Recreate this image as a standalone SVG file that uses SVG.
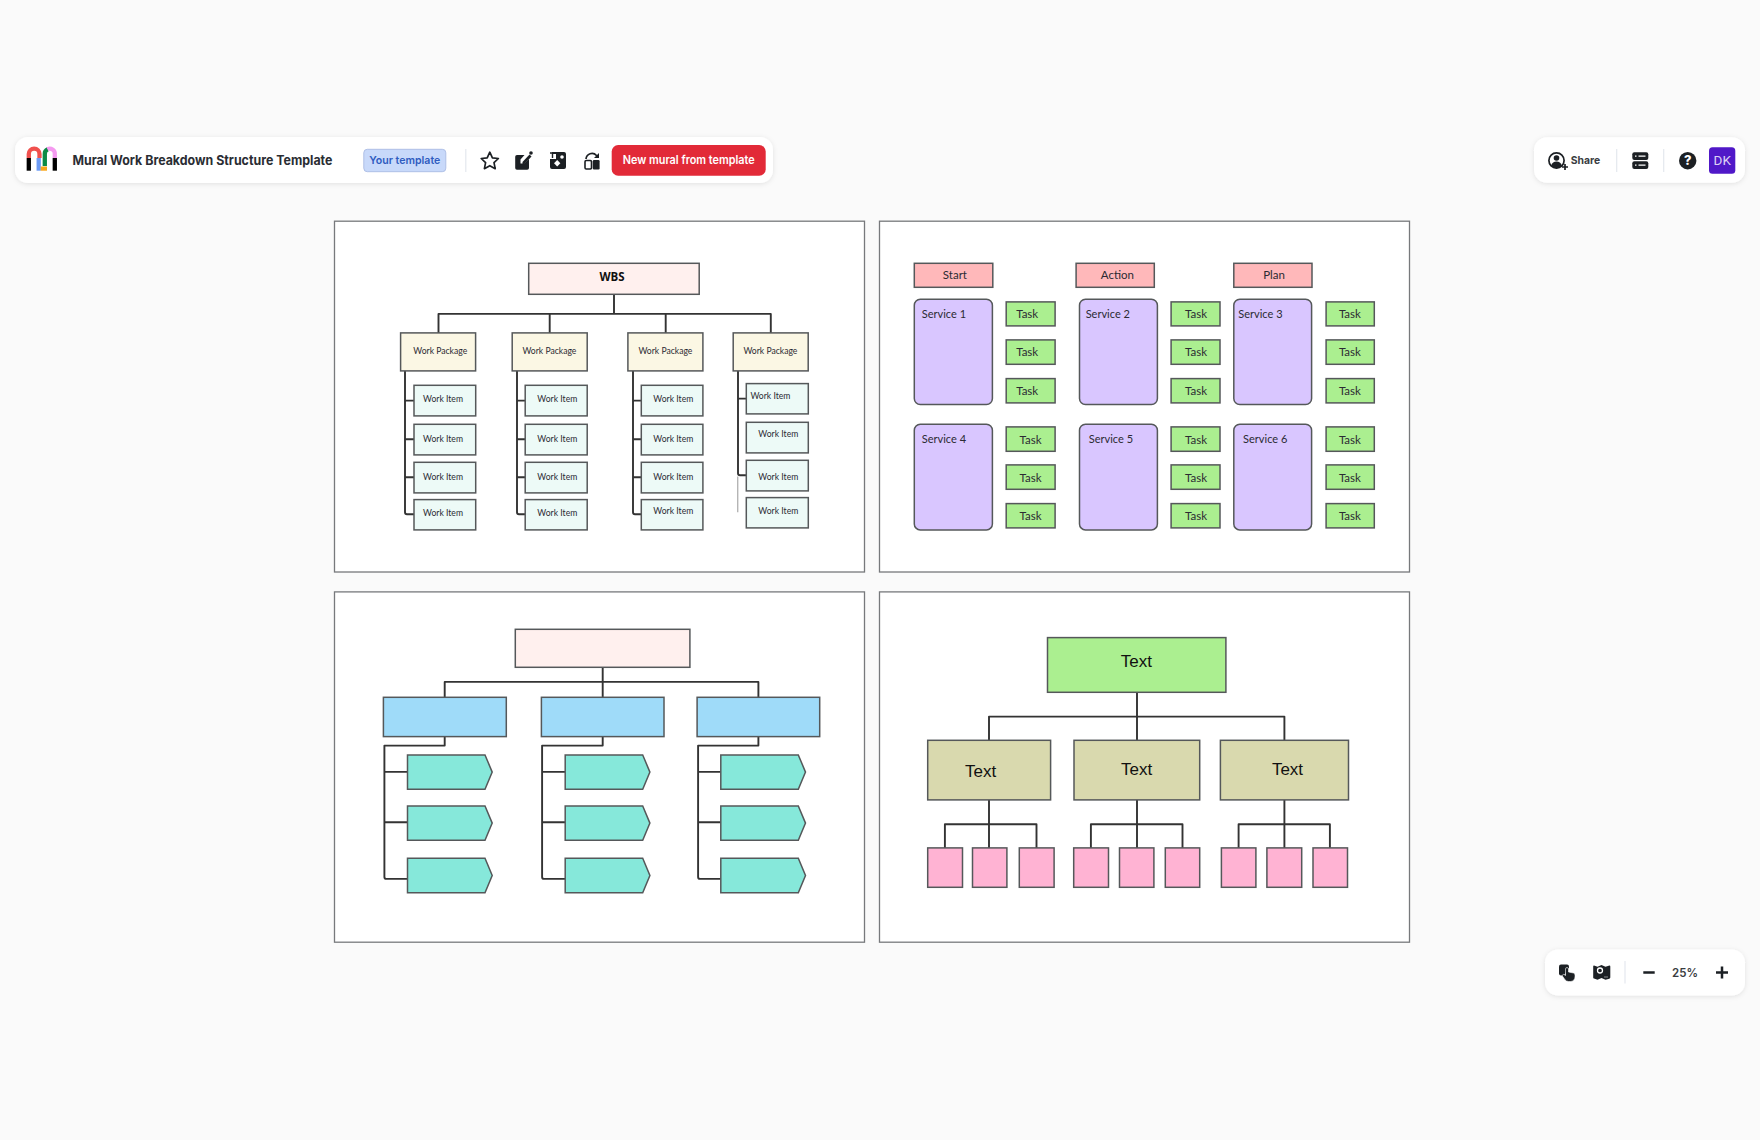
<svg xmlns="http://www.w3.org/2000/svg" width="1760" height="1140" viewBox="0 0 1760 1140">
<style>
.ui{font-family:"Inter","Liberation Sans",sans-serif}
.lb{font-family:"Lato","Open Sans",sans-serif;text-anchor:middle;dominant-baseline:central;fill:#2b2b33}
.frame{fill:#fff;stroke:#77797c;stroke-width:1.3}
.n{stroke:#55585a;stroke-width:1.5}
.wbs{fill:#fff0ee}.wp{fill:#fbf7e4}.wi{fill:#edfaf7}
.hd{fill:#ffb8ba}.sv{fill:#d9c6ff}.tk{fill:#abef90}
.bl{fill:#9fdbf9}.pt{fill:#86e8da}.ol{fill:#d9d9ae}.pk{fill:#ffb3d3}
.c{fill:none;stroke:#333;stroke-width:1.9;stroke-linejoin:round}
.bar{fill:#fff;filter:url(#sh)}
.dv{stroke:#e4e8ee;stroke-width:1.2}
.ic{fill:#1c2024}
.i10{font-size:8.6px}.i11{font-size:11.5px}.i12{font-size:11px}
.ar{font-family:"Liberation Sans",Arial,sans-serif;font-size:17px;text-anchor:middle;dominant-baseline:central;fill:#111}
</style>
<defs>
<filter id="sh" x="-5%" y="-30%" width="110%" height="170%"><feDropShadow dx="0" dy="1" stdDeviation="2.5" flood-color="#1c2024" flood-opacity="0.1"/></filter>
<path id="p5" class="n pt" d="M0 0H77.500L84.700 17.200L77.500 34.400H0Z"/>
</defs>
<rect width="1760" height="1140" fill="#fafafa"/>

<g id="toolbar-left">
<rect class="bar" x="15" y="137" width="758" height="46" rx="13"/>
<g id="logo" fill="none" stroke-width="4.3">
<path d="M28.800 158V154a5.300 5.300 0 0 1 10.700 0V158" stroke="#f0514e"/>
<path d="M38.700 158V170.700" stroke="#6e9cf5"/>
<path d="M28.800 158V170.700" stroke="#000"/>
<path d="M44.800 166V154a5 5 0 0 1 3 -4.800" stroke="#0c8a45"/>
<path d="M47.500 149.200a5 5 0 0 1 7.300 4.800V158" stroke="#f59af0"/>
<path d="M54.800 158V170.700" stroke="#000"/>
<rect x="40.700" y="166.500" width="6.300" height="4.200" fill="#f9a71a" stroke="none"/>
</g>
<text class="ui" x="72.400" y="164.500" font-size="13" font-weight="700" fill="#2a2d33" textLength="260" lengthAdjust="spacingAndGlyphs">Mural Work Breakdown Structure Template</text>
<rect x="363.800" y="149.300" width="82" height="22.400" rx="3.500" fill="#c8d9fa" stroke="#aebfe6" stroke-width="1"/>
<text class="ui" x="404.800" y="164" font-size="11" font-weight="600" fill="#2f5cc0" text-anchor="middle" textLength="71" lengthAdjust="spacingAndGlyphs">Your template</text>
<line class="dv" x1="465.800" y1="149" x2="465.800" y2="172"/>
<path d="M489.800 152.200l2.600 5.600 6 .7-4.400 4.200 1.200 6-5.400-3-5.400 3 1.200-6-4.400-4.200 6-.7z" fill="none" stroke="#1c2024" stroke-width="1.700" stroke-linejoin="round"/>
<path d="M517 155h7.500l-4 4.500v4h4l4.500-4.500V168a1.800 1.800 0 0 1-1.800 1.800H517a1.800 1.800 0 0 1-1.800-1.800V156.800A1.800 1.800 0 0 1 517 155z" class="ic"/>
<path d="M522.500 162l7-7.500 2 2-7 7.500h-2z" class="ic"/>
<circle cx="531" cy="153" r="1.800" class="ic"/>
<path d="M552 152h12a2 2 0 0 1 2 2v13a2 2 0 0 1-2 2h-12a2 2 0 0 1-2-2v-8h6v-5h-4z" class="ic"/>
<path d="M550 153h5M552.500 153v5" stroke="#1c2024" stroke-width="1.400" fill="none"/>
<rect x="555" y="161" width="4.500" height="4.500" fill="#fff" transform="rotate(45 557.200 163.200)"/>
<circle cx="562" cy="157" r="1.800" fill="#fff"/>
<path d="M586 159a6 6 0 0 1 10.500-3.500l1 1.500" fill="none" stroke="#1c2024" stroke-width="1.700"/>
<path d="M599 153v5h-5z" class="ic"/>
<rect x="585" y="160.500" width="6.500" height="8.500" rx="1.200" fill="none" stroke="#1c2024" stroke-width="1.600"/>
<rect x="592.800" y="160" width="6.800" height="9.500" rx="1.200" class="ic"/>
<rect x="611.700" y="145" width="154" height="30.700" rx="6.500" fill="#e22a38"/>
<text class="ui" x="688.700" y="164.200" font-size="11.500" font-weight="600" fill="#fff" text-anchor="middle" textLength="132" lengthAdjust="spacingAndGlyphs">New mural from template</text>
</g>

<g id="toolbar-right">
<rect class="bar" x="1534" y="137.300" width="211" height="45.400" rx="13"/>
<circle cx="1556.500" cy="160.500" r="7.600" fill="none" stroke="#1c2024" stroke-width="1.700"/>
<circle cx="1556.500" cy="158" r="2.800" class="ic"/>
<path d="M1551 166c1-3.500 3-4.500 5.500-4.500s4.500 1 5.500 4.500l-5.500 2.500z" class="ic"/>
<path d="M1562 167h6M1565 164v6" stroke="#1c2024" stroke-width="1.700" fill="none"/>
<text class="ui" x="1570.700" y="163.800" font-size="11" font-weight="700" fill="#3a3d42" textLength="29.500" lengthAdjust="spacingAndGlyphs">Share</text>
<line class="dv" x1="1616.700" y1="149" x2="1616.700" y2="172"/>
<rect x="1632.300" y="152.300" width="16" height="7.800" rx="2" class="ic"/>
<rect x="1632.300" y="161.300" width="16" height="7.800" rx="2" class="ic"/>
<path d="M1635 156.200h1.500M1635 165.200h1.500M1638.500 156.200h7M1638.500 165.200h7" stroke="#fff" stroke-width="1.200" fill="none"/>
<line class="dv" x1="1663.700" y1="149" x2="1663.700" y2="172"/>
<circle cx="1687.700" cy="160.700" r="8.700" class="ic"/>
<text class="ui" x="1687.700" y="165.200" font-size="13" font-weight="800" fill="#fff" text-anchor="middle">?</text>
<rect x="1709" y="147.300" width="26.300" height="26.400" rx="3.500" fill="#5018c8"/>
<text x="1722.200" y="165" font-family="Roboto,sans-serif" font-size="13.500" fill="#dcd0f5" text-anchor="middle">DK</text>
</g>

<g id="toolbar-zoom">
<rect class="bar" x="1545" y="949.500" width="200" height="46" rx="13"/>
<path d="M1561 964.500h6a2 2 0 0 1 2 2v1l-5 8h-3a2 2 0 0 1-2-2v-7a2 2 0 0 1 2-2z" class="ic"/>
<path d="M1565.500 969a1.500 1.500 0 0 1 3 0v3l5 1a2 2 0 0 1 1.500 2.200v1.800a4.500 4.500 0 0 1-4.500 4.500h-2a4.500 4.500 0 0 1-3.700-2l-2.800-4 1.800-1.200 1.700 1.200z" class="ic" stroke="#fff" stroke-width=".6"/>
<path d="M1594 965.500l3.500 1.200 4-1.700 4 1.700 4-1.200a1 1 0 0 1 .8 1v11a1.500 1.500 0 0 1-1 1.200l-3.800 1-4-1.600-4 1.600-3.500-1.100a1 1 0 0 1-.8-1V966.500a1 1 0 0 1 .8-1z" class="ic"/>
<circle cx="1600" cy="970.500" r="2.500" fill="none" stroke="#fff" stroke-width="1.300"/>
<path d="M1604.500 977h4" stroke="#fff" stroke-width="1" stroke-dasharray="1 1"/>
<line class="dv" x1="1625" y1="961" x2="1625" y2="983.500"/>
<path d="M1643.300 972.500h11.400M1716 972.500h12M1722 966.500v12" stroke="#1c2024" stroke-width="2.500" fill="none"/>
<text class="ui" x="1685" y="976.500" font-size="11.500" font-weight="600" fill="#3a3d42" text-anchor="middle">25%</text>
</g>

<g id="frames">
<rect class="frame" x="334.500" y="221.200" width="530" height="350.800"/>
<rect class="frame" x="879.500" y="221.200" width="530" height="350.800"/>
<rect class="frame" x="334.500" y="591.900" width="530" height="350.300"/>
<rect class="frame" x="879.500" y="591.900" width="530" height="350.300"/>
</g>

<g id="connectors" transform="translate(0 0.6)">
<path class="c" d="M614 293.700V313.300M438.500 332.300V313.300H770.800V332.300M549.700 313.300V332.300M665.700 313.300V332.300"/>
<path class="c" d="M405 370.300V511.700q0 2 2 2H414M405 400H414M405 438.700H414M405 476.700H414"/>
<path class="c" d="M517 370.300V511.700q0 2 2 2H525.200M517 400H525.200M517 438.700H525.200M517 476.700H525.200"/>
<path class="c" d="M633 370.300V511.700q0 2 2 2H641.300M633 400H641.300M633 438.700H641.300M633 476.700H641.300"/>
<path class="c" d="M738 370.300V472.700q0 2 2 2H746.300M738 398H746.300"/>
<path d="M737.700 476V511.700" fill="none" stroke="#b5b5b5" stroke-width="1.400"/>
<path class="c" d="M602.700 666.700V696.700M444.700 696.700V681.300H758.400V696.700"/>
<path class="c" d="M444.700 736V745H384.400V876.300q0 2 2 2H407.500M384.400 771.300H407.500M384.400 821.700H407.500"/>
<path class="c" d="M602.700 736V745H542.100V876.300q0 2 2 2H565.200M542.100 771.300H565.200M542.100 821.700H565.200"/>
<path class="c" d="M758.400 736V745H698.100V876.300q0 2 2 2H720.800M698.100 771.300H720.800M698.100 821.700H720.800"/>
<path class="c" d="M1137 691.700V739.700M989 739.700V716H1284.400V739.700"/>
<path class="c" d="M989 799.300V847.300M944.900 847.300V823.700H1036.500V847.300"/>
<path class="c" d="M1137 799.300V847.300M1090.900 847.300V823.700H1182.500V847.300"/>
<path class="c" d="M1284.400 799.300V847.300M1238.600 847.300V823.700H1329.900V847.300"/>
</g>

<g id="nodes" transform="translate(0 0.6)">
<g id="wbs"><rect class="n wbs" x="528.700" y="262.700" width="170.500" height="31"/><text x="612" y="276" font-family="'Open Sans',sans-serif" font-size="11.500" font-weight="700" fill="#111" text-anchor="middle" dominant-baseline="central">WBS</text></g>
<g id="wp1"><rect class="n wp" x="400.600" y="332.300" width="75" height="38"/><text class="lb i10" x="440.200" y="350">Work Package</text></g>
<g id="wp2"><rect class="n wp" x="512.200" y="332.300" width="75" height="38"/><text class="lb i10" x="549.400" y="350">Work Package</text></g>
<g id="wp3"><rect class="n wp" x="627.900" y="332.300" width="75" height="38"/><text class="lb i10" x="665.400" y="350">Work Package</text></g>
<g id="wp4"><rect class="n wp" x="733.200" y="332.300" width="75" height="38"/><text class="lb i10" x="770.400" y="350">Work Package</text></g>

<g id="wi11"><rect class="n wi" x="414" y="384.700" width="61.700" height="30.600"/><text class="lb i10" x="443" y="398.300">Work Item</text></g>
<g id="wi12"><rect class="n wi" x="414" y="423.700" width="61.700" height="30.600"/><text class="lb i10" x="443" y="438.300">Work Item</text></g>
<g id="wi13"><rect class="n wi" x="414" y="461.700" width="61.700" height="30.600"/><text class="lb i10" x="443" y="476">Work Item</text></g>
<g id="wi14"><rect class="n wi" x="414" y="499" width="61.700" height="30.300"/><text class="lb i10" x="443" y="512.300">Work Item</text></g>
<g id="wi21"><rect class="n wi" x="525.200" y="384.700" width="62" height="30.600"/><text class="lb i10" x="557.300" y="398.300">Work Item</text></g>
<g id="wi22"><rect class="n wi" x="525.200" y="423.700" width="62" height="30.600"/><text class="lb i10" x="557.300" y="438.300">Work Item</text></g>
<g id="wi23"><rect class="n wi" x="525.200" y="461.700" width="62" height="30.600"/><text class="lb i10" x="557.300" y="476">Work Item</text></g>
<g id="wi24"><rect class="n wi" x="525.200" y="499" width="62" height="30.300"/><text class="lb i10" x="557.300" y="512.300">Work Item</text></g>
<g id="wi31"><rect class="n wi" x="641.300" y="384.700" width="61.600" height="30.600"/><text class="lb i10" x="673.300" y="398.300">Work Item</text></g>
<g id="wi32"><rect class="n wi" x="641.300" y="423.700" width="61.600" height="30.600"/><text class="lb i10" x="673.300" y="438.300">Work Item</text></g>
<g id="wi33"><rect class="n wi" x="641.300" y="461.700" width="61.600" height="30.600"/><text class="lb i10" x="673.300" y="476">Work Item</text></g>
<g id="wi34"><rect class="n wi" x="641.300" y="499" width="61.600" height="30.300"/><text class="lb i10" x="673.300" y="510.700">Work Item</text></g>
<g id="wi41"><rect class="n wi" x="746.300" y="383" width="62" height="30.300"/><text class="lb i10" x="770.400" y="395.700">Work Item</text></g>
<g id="wi42"><rect class="n wi" x="746.300" y="421.700" width="62" height="30.600"/><text class="lb i10" x="778.300" y="433.700">Work Item</text></g>
<g id="wi43"><rect class="n wi" x="746.300" y="459.700" width="62" height="30.600"/><text class="lb i10" x="778.300" y="476">Work Item</text></g>
<g id="wi44"><rect class="n wi" x="746.300" y="497" width="62" height="30.300"/><text class="lb i10" x="778.300" y="510.300">Work Item</text></g>

<g id="start"><rect class="n hd" x="914.300" y="262.700" width="78.500" height="24"/><text class="lb i11" x="954.900" y="274.300">Start</text></g>
<g id="action"><rect class="n hd" x="1076.100" y="262.700" width="78.200" height="24"/><text class="lb i11" x="1117.400" y="274.300">Action</text></g>
<g id="plan"><rect class="n hd" x="1233.800" y="262.700" width="78.200" height="24"/><text class="lb i11" x="1274.100" y="274.300">Plan</text></g>

<g id="service1"><rect class="n sv" x="914.300" y="298.700" width="78.100" height="105.300" rx="6"/><text class="lb i12" style="text-anchor:start" x="921.800" y="313.300">Service 1</text></g>
<g id="service2"><rect class="n sv" x="1079.500" y="298.700" width="77.900" height="105.300" rx="6"/><text class="lb i12" style="text-anchor:start" x="1085.700" y="313.300">Service 2</text></g>
<g id="service3"><rect class="n sv" x="1233.800" y="298.700" width="77.800" height="105.300" rx="6"/><text class="lb i12" style="text-anchor:start" x="1238.300" y="313.300">Service 3</text></g>
<g id="service4"><rect class="n sv" x="914.300" y="423.700" width="78.100" height="105.600" rx="6"/><text class="lb i12" style="text-anchor:start" x="921.800" y="438.300">Service 4</text></g>
<g id="service5"><rect class="n sv" x="1079.500" y="423.700" width="77.900" height="105.600" rx="6"/><text class="lb i12" style="text-anchor:start" x="1088.800" y="438.300">Service 5</text></g>
<g id="service6"><rect class="n sv" x="1233.800" y="423.700" width="77.800" height="105.600" rx="6"/><text class="lb i12" style="text-anchor:start" x="1243.100" y="438.300">Service 6</text></g>

<g id="t11"><rect class="n tk" x="1006.200" y="301.300" width="48.900" height="24"/><text class="lb i11" x="1027.200" y="313.300">Task</text></g>
<g id="t12"><rect class="n tk" x="1006.200" y="339.300" width="48.900" height="24.400"/><text class="lb i11" x="1027.200" y="351.300">Task</text></g>
<g id="t13"><rect class="n tk" x="1006.200" y="378" width="48.900" height="24.300"/><text class="lb i11" x="1027.200" y="390">Task</text></g>
<g id="t14"><rect class="n tk" x="1006.200" y="426.300" width="48.900" height="24.400"/><text class="lb i11" x="1030.600" y="438.700">Task</text></g>
<g id="t15"><rect class="n tk" x="1006.200" y="464.300" width="48.900" height="24.400"/><text class="lb i11" x="1030.600" y="476.700">Task</text></g>
<g id="t16"><rect class="n tk" x="1006.200" y="503" width="48.900" height="24.300"/><text class="lb i11" x="1030.600" y="515.300">Task</text></g>
<g id="t21"><rect class="n tk" x="1171.100" y="301.300" width="48.900" height="24"/><text class="lb i11" x="1196" y="313.300">Task</text></g>
<g id="t22"><rect class="n tk" x="1171.100" y="339.300" width="48.900" height="24.400"/><text class="lb i11" x="1196" y="351.300">Task</text></g>
<g id="t23"><rect class="n tk" x="1171.100" y="378" width="48.900" height="24.300"/><text class="lb i11" x="1196" y="390">Task</text></g>
<g id="t24"><rect class="n tk" x="1171.100" y="426.300" width="48.900" height="24.400"/><text class="lb i11" x="1196" y="438.700">Task</text></g>
<g id="t25"><rect class="n tk" x="1171.100" y="464.300" width="48.900" height="24.400"/><text class="lb i11" x="1196" y="476.700">Task</text></g>
<g id="t26"><rect class="n tk" x="1171.100" y="503" width="48.900" height="24.300"/><text class="lb i11" x="1196" y="515.300">Task</text></g>
<g id="t31"><rect class="n tk" x="1326.100" y="301.300" width="48.200" height="24"/><text class="lb i11" x="1349.900" y="313.300">Task</text></g>
<g id="t32"><rect class="n tk" x="1326.100" y="339.300" width="48.200" height="24.400"/><text class="lb i11" x="1349.900" y="351.300">Task</text></g>
<g id="t33"><rect class="n tk" x="1326.100" y="378" width="48.200" height="24.300"/><text class="lb i11" x="1349.900" y="390">Task</text></g>
<g id="t34"><rect class="n tk" x="1326.100" y="426.300" width="48.200" height="24.400"/><text class="lb i11" x="1349.900" y="438.700">Task</text></g>
<g id="t35"><rect class="n tk" x="1326.100" y="464.300" width="48.200" height="24.400"/><text class="lb i11" x="1349.900" y="476.700">Task</text></g>
<g id="t36"><rect class="n tk" x="1326.100" y="503" width="48.200" height="24.300"/><text class="lb i11" x="1349.900" y="515.300">Task</text></g>

<g id="root3"><rect class="n wbs" x="515.300" y="628.700" width="174.600" height="38"/></g>
<g id="blue1"><rect class="n bl" x="383.400" y="696.700" width="122.900" height="39.300"/></g>
<g id="blue2"><rect class="n bl" x="541.400" y="696.700" width="122.600" height="39.300"/></g>
<g id="blue3"><rect class="n bl" x="697.100" y="696.700" width="122.600" height="39.300"/></g>
<g id="p11"><use href="#p5" x="407.500" y="754.300"/></g>
<g id="p12"><use href="#p5" x="407.500" y="805.300"/></g>
<g id="p13"><use href="#p5" x="407.500" y="857.700"/></g>
<g id="p21"><use href="#p5" x="565.200" y="754.300"/></g>
<g id="p22"><use href="#p5" x="565.200" y="805.300"/></g>
<g id="p23"><use href="#p5" x="565.200" y="857.700"/></g>
<g id="p31"><use href="#p5" x="720.800" y="754.300"/></g>
<g id="p32"><use href="#p5" x="720.800" y="805.300"/></g>
<g id="p33"><use href="#p5" x="720.800" y="857.700"/></g>

<g id="green"><rect class="n tk" x="1047.500" y="637" width="178.400" height="54.700"/><text class="ar" x="1136.400" y="661">Text</text></g>
<g id="ol1"><rect class="n ol" x="927.700" y="739.700" width="122.900" height="59.600"/><text class="ar" x="980.700" y="771">Text</text></g>
<g id="ol2"><rect class="n ol" x="1074" y="739.700" width="125.700" height="59.600"/><text class="ar" x="1136.700" y="769">Text</text></g>
<g id="ol3"><rect class="n ol" x="1220.400" y="739.700" width="128.100" height="59.600"/><text class="ar" x="1287.500" y="769">Text</text></g>
<g id="pk1"><rect class="n pk" x="927.700" y="847.300" width="34.800" height="39.400"/></g>
<g id="pk2"><rect class="n pk" x="972.500" y="847.300" width="34.400" height="39.400"/></g>
<g id="pk3"><rect class="n pk" x="1019.300" y="847.300" width="34.800" height="39.400"/></g>
<g id="pk4"><rect class="n pk" x="1073.700" y="847.300" width="34.800" height="39.400"/></g>
<g id="pk5"><rect class="n pk" x="1119.500" y="847.300" width="34.400" height="39.400"/></g>
<g id="pk6"><rect class="n pk" x="1165.300" y="847.300" width="34.400" height="39.400"/></g>
<g id="pk7"><rect class="n pk" x="1221.400" y="847.300" width="34.500" height="39.400"/></g>
<g id="pk8"><rect class="n pk" x="1266.900" y="847.300" width="34.800" height="39.400"/></g>
<g id="pk9"><rect class="n pk" x="1313" y="847.300" width="34.500" height="39.400"/></g>
</g>
</svg>
